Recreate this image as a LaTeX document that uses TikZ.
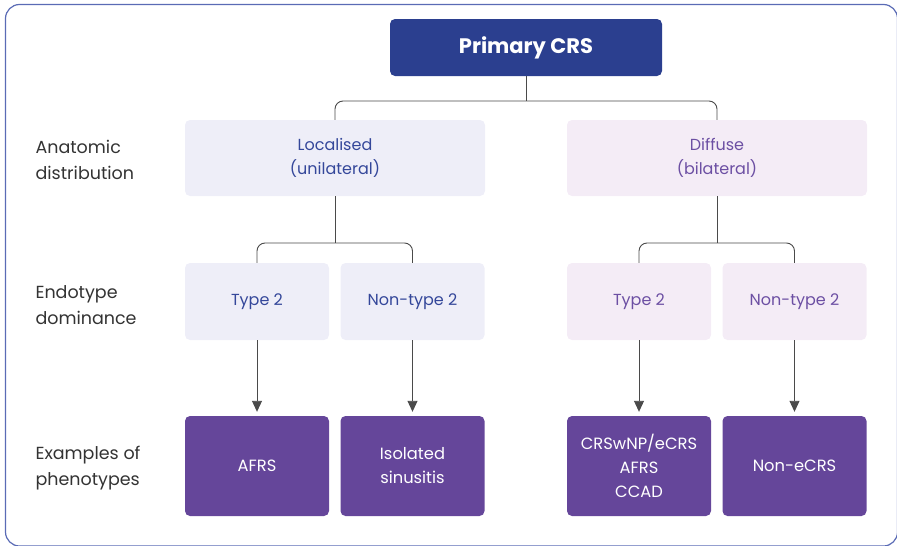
\documentclass[tikz,border=0pt]{standalone}
\usepackage{fontspec}
\setmainfont{Poppins}
\usepackage{tikz}
\usetikzlibrary{arrows.meta,positioning}
\definecolor{navyx}{HTML}{2B3F8F}
\definecolor{bluetxt}{HTML}{34479A}
\definecolor{bluebg}{HTML}{EEEEF8}
\definecolor{purptxt}{HTML}{6C4FA3}
\definecolor{purpbg}{HTML}{F4ECF6}
\definecolor{purpx}{HTML}{65469A}
\definecolor{linex}{HTML}{4A4A4A}
\definecolor{labelx}{HTML}{333333}
\definecolor{framex}{HTML}{5A6BB5}
\tikzset{
  base/.style={rounded corners=5pt,align=center,inner sep=2pt,font=\fontsize{16}{24}\selectfont},
  topbox/.style={base,fill=navyx,text=white,minimum width=272pt,minimum height=57pt,font=\fontsize{21}{24}\selectfont\bfseries},
  lbox/.style={base,fill=bluebg,text=bluetxt},
  rbox/.style={base,fill=purpbg,text=purptxt},
  phbox/.style={base,fill=purpx,text=white,minimum width=144pt,minimum height=100pt,font=\fontsize{16.3}{24}\selectfont},
  wide/.style={minimum width=300pt,minimum height=76pt},
  half/.style={minimum width=144pt,minimum height=77pt},
  rowlab/.style={anchor=west,align=left,text=labelx,font=\fontsize{17.5}{26}\selectfont},
  link/.style={draw=linex,line width=0.9pt},
  ar/.style={link,-{Triangle[length=11pt,width=10pt]},shorten >=4pt}
}
\begin{document}
\begin{tikzpicture}[x=1pt,y=-1pt]
\useasboundingbox (0,0) rectangle (897,546);
\draw[framex,line width=1.2pt,rounded corners=14pt] (5.5,4.5) rectangle (897.5,546);
% boxes
\node[topbox] (prim) at (526,47.5) {Primary CRS};
\node[lbox,wide] (loc) at (335,158) {Localised\\(unilateral)};
\node[rbox,wide] (dif) at (717,158) {Diffuse\\(bilateral)};
\node[lbox,half] (lt) at (257,301.5) {Type 2};
\node[lbox,half] (ln) at (412.5,301.5) {Non-type 2};
\node[rbox,half] (rt) at (639,301.5) {Type 2};
\node[rbox,half] (rn) at (794.5,301.5) {Non-type 2};
\node[phbox] (afrs) at (257,466) {AFRS};
\node[phbox] (iso) at (412.5,466) {Isolated\\sinusitis};
\node[phbox] (crs) at (639,466) {CRSwNP/eCRS\\AFRS\\CCAD};
\node[phbox] (neo) at (794.5,466) {Non-eCRS};
% row labels
\node[rowlab] (l1) at (32,160) {Anatomic\\distribution};
\node[rowlab] (l2) at (32,305) {Endotype\\dominance};
\node[rowlab] (l3) at (32,468) {Examples of\\phenotypes};
% connectors
\coordinate (j1) at (526,101);
\coordinate (j2) at (335,243);
\coordinate (j3) at (717,243);
\draw[link] (prim.south) -- (j1);
\draw[link,rounded corners=8pt] (loc.north) |- (j1) -| (dif.north);
\draw[link] (loc.south) -- (j2);
\draw[link,rounded corners=8pt] (lt.north) |- (j2) -| (ln.north);
\draw[link] (dif.south) -- (j3);
\draw[link,rounded corners=8pt] (rt.north) |- (j3) -| (rn.north);
\draw[ar] (lt.south) -- (afrs.north);
\draw[ar] (ln.south) -- (iso.north);
\draw[ar] (rt.south) -- (crs.north);
\draw[ar] (rn.south) -- (neo.north);
\end{tikzpicture}
\end{document}
